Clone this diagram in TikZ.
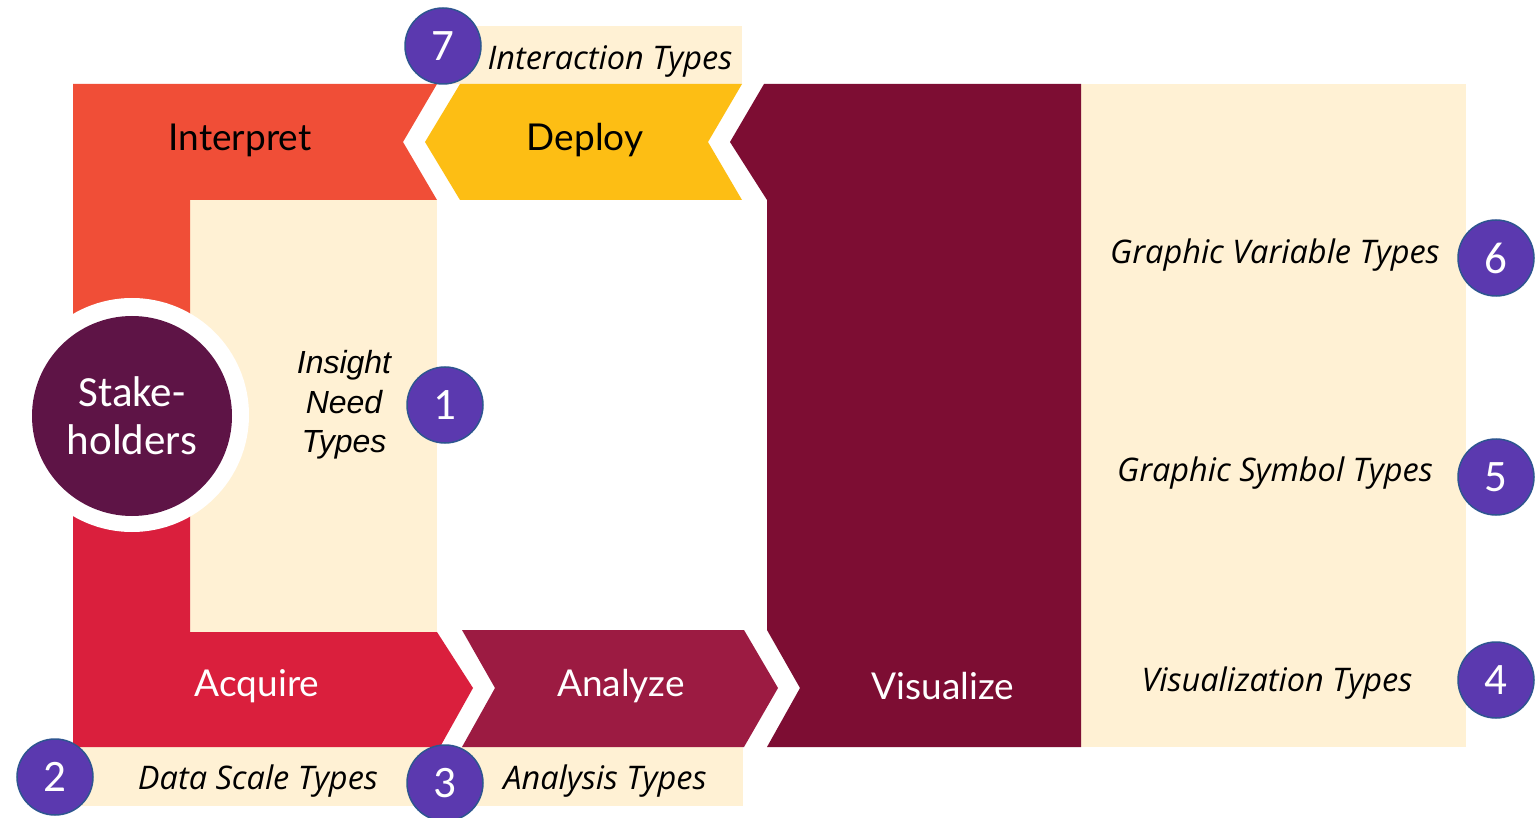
\documentclass[tikz,border=0pt]{standalone}
\usepackage{fontspec}
\setmainfont{Carlito}
\newfontfamily\latofont{Lato}
\newfontfamily\labfont{Open Sans}
\newfontfamily\arialfont{Liberation Sans}
\definecolor{cream}{HTML}{FFF1D4}
\definecolor{interp}{HTML}{F04E37}
\definecolor{deploy}{HTML}{FDBE14}
\definecolor{acq}{HTML}{DA1F3D}
\definecolor{anal}{HTML}{9C1B42}
\definecolor{visu}{HTML}{7D0D33}
\definecolor{stake}{HTML}{5E1446}
\definecolor{numfill}{HTML}{5B39AF}
\definecolor{numedge}{HTML}{2E5590}
\tikzset{
  numc/.style={circle, fill=numfill, draw=numedge, line width=1.5pt, minimum size=76pt, inner sep=0pt, text=white, font=\fontsize{45}{45}\selectfont},
  stagelab/.style={inner sep=0pt, font=\latofont\fontsize{37}{40}\selectfont},
  typelab/.style={inner sep=0pt, font=\labfont\itshape\fontsize{32.5}{36}\selectfont},
}
\begin{document}
\begin{tikzpicture}[x=1pt,y=-1pt]
\fill[white] (0,0) rectangle (1540,818);
\useasboundingbox (0,0) rectangle (1540,818);
% cream panels
\fill[cream] (440,26) rectangle (742,84);
\fill[cream] (73,747) rectangle (743,806);
\fill[cream] (1081,84) rectangle (1466,747);
\fill[cream] (190,200) rectangle (437,632);
% stages
\fill[interp] (73,84) -- (437,84) -- (403,142) -- (437,200) -- (190,200) -- (190,420) -- (73,420) -- cycle;
\fill[acq] (73,415) -- (190,415) -- (190,632) -- (437,632) -- (473,688) -- (440,747) -- (73,747) -- cycle;
\fill[deploy] (460,84) -- (742,84) -- (708,142) -- (742,200) -- (460,200) -- (425,142) -- cycle;
\fill[anal] (462,630) -- (744,630) -- (778,688) -- (744,747) -- (462,747) -- (495,688) -- cycle;
\fill[visu] (764,84) -- (1081,84) -- (1081,747) -- (767,747) -- (800,688) -- (767,630) -- (767,200) -- (730,142) -- cycle;
% stakeholders
\fill[white] (132,415) circle[radius=117pt];
\node[circle, fill=stake, minimum size=200pt, inner sep=0pt, text=white, align=center,
  font=\fontsize{43}{48}\selectfont] (stake) at (132,416) {Stake-\\holders};
% stage labels
\node[stagelab] (interpret) at (240,140) {Interpret};
\node[stagelab] (deploylab) at (585,140) {Deploy};
\node[stagelab, text=white] (acquire) at (257,686) {Acquire};
\node[stagelab, text=white] (analyze) at (621,686) {Analyze};
\node[stagelab, text=white] (visualize) at (943,686) {Visualize};
% type labels
\node[inner sep=0pt, align=center, font=\arialfont\itshape\fontsize{32}{39.5}\selectfont] (insight) at (344,405) {Insight\\Need\\Types};
\node[typelab] (interaction) at (610,61) {Interaction Types};
\node[typelab] (datascale) at (258,781) {Data Scale Types};
\node[typelab] (analysis) at (605,781) {Analysis Types};
\node[typelab] (gvar) at (1275,255) {Graphic Variable Types};
\node[typelab] (gsym) at (1275,473) {Graphic Symbol Types};
\node[typelab] (vistypes) at (1277,683) {Visualization Types};
% numbers
\node[numc] (n7) at (443,46) {7};
\node[numc] (n1) at (445,405) {1};
\node[numc] (n2) at (55,777) {2};
\node[numc] (n3) at (445,783) {3};
\node[numc] (n6) at (1496,258) {6};
\node[numc] (n5) at (1496,477) {5};
\node[numc] (n4) at (1496,680) {4};
\end{tikzpicture}
\end{document}
